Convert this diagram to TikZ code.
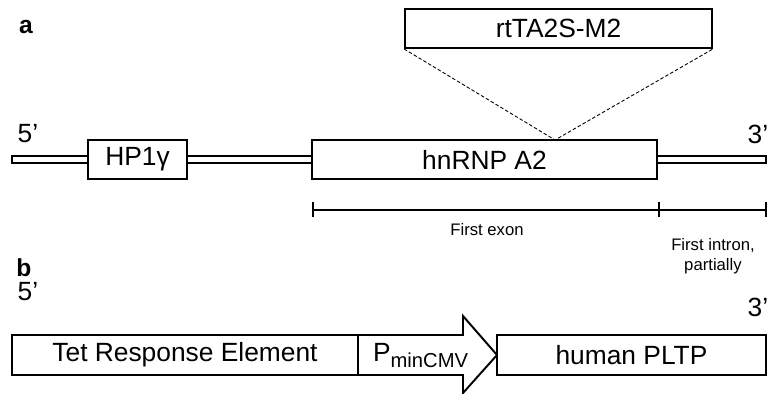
\documentclass[tikz,border=0pt]{standalone}
\usepackage{fontspec}
\setmainfont{Liberation Sans}
\usetikzlibrary{positioning}

\begin{document}
\begin{tikzpicture}[x=0.02cm,y=-0.02cm,font=\fontsize{15}{17}\selectfont,
  box/.style={draw,line width=1.1pt,fill=white,inner sep=0pt,minimum height=0.78cm},
  strand/.style={draw,line width=0.8pt,fill=white},
  panel/.style={font=\fontsize{14}{16}\selectfont\bfseries},
  small/.style={font=\fontsize{9.5}{11.5}\selectfont,align=center}]
  \useasboundingbox (0,0) rectangle (768,394);
  % panel a: the locus
  \node[panel] (la) at (26,27) {a};
  \draw[strand] (12,156) rectangle (766,163);
  \node[box,minimum width=1.98cm] (hp) at (137.5,159.5) {HP1γ};
  \node[box,minimum width=6.9cm] (hn) at (484.5,159.5) {hnRNP A2};
  \node[box,minimum width=6.14cm] (rt) at (558.5,28.5) {rtTA2S-M2};
  \node (fiveA) at (28,134) {5’};
  \node (threeA) at (758,134) {3’};
  % insertion site
  \coordinate (ins) at (555,140);
  \draw[dashed,dash pattern=on 2pt off 1.2pt,line width=0.5pt] (rt.south west) -- (ins) -- (rt.south east);
  % exon / intron scale
  \coordinate (s0) at (313,210);
  \coordinate (s1) at (659,210);
  \coordinate (s2) at (766,210);
  \draw[line width=0.6pt] (s0) -- (s2);
  \foreach \p in {s0,s1,s2}
    \draw[line width=0.8pt] ([yshift=0.15cm]\p) -- ([yshift=-0.15cm]\p);
  \node[small] (ex) at (487,230) {First exon};
  \node[small] (in) at (713,256) {First intron,\\partially};
  % panel b: the transgene
  \node[panel] (lb) at (24,268) {b};
  \node (fiveB) at (28,292) {5’};
  \node (threeB) at (758,307) {3’};
  \node[box,minimum width=6.92cm,minimum height=0.8cm] (tre) at (185,355) {Tet Response Element};
  \draw[line width=1.1pt,fill=white] (358,335) -- (463,335) -- (463,316) -- (497,355)
     -- (463,393) -- (463,375) -- (358,375) -- cycle;
  \node (pm) at (421,356) {P\textsubscript{\fontsize{11.5}{12}\selectfont minCMV}};
  \node[box,minimum width=5.38cm,minimum height=0.8cm] (pl) at (631.5,355) {human PLTP};
\end{tikzpicture}
\end{document}
